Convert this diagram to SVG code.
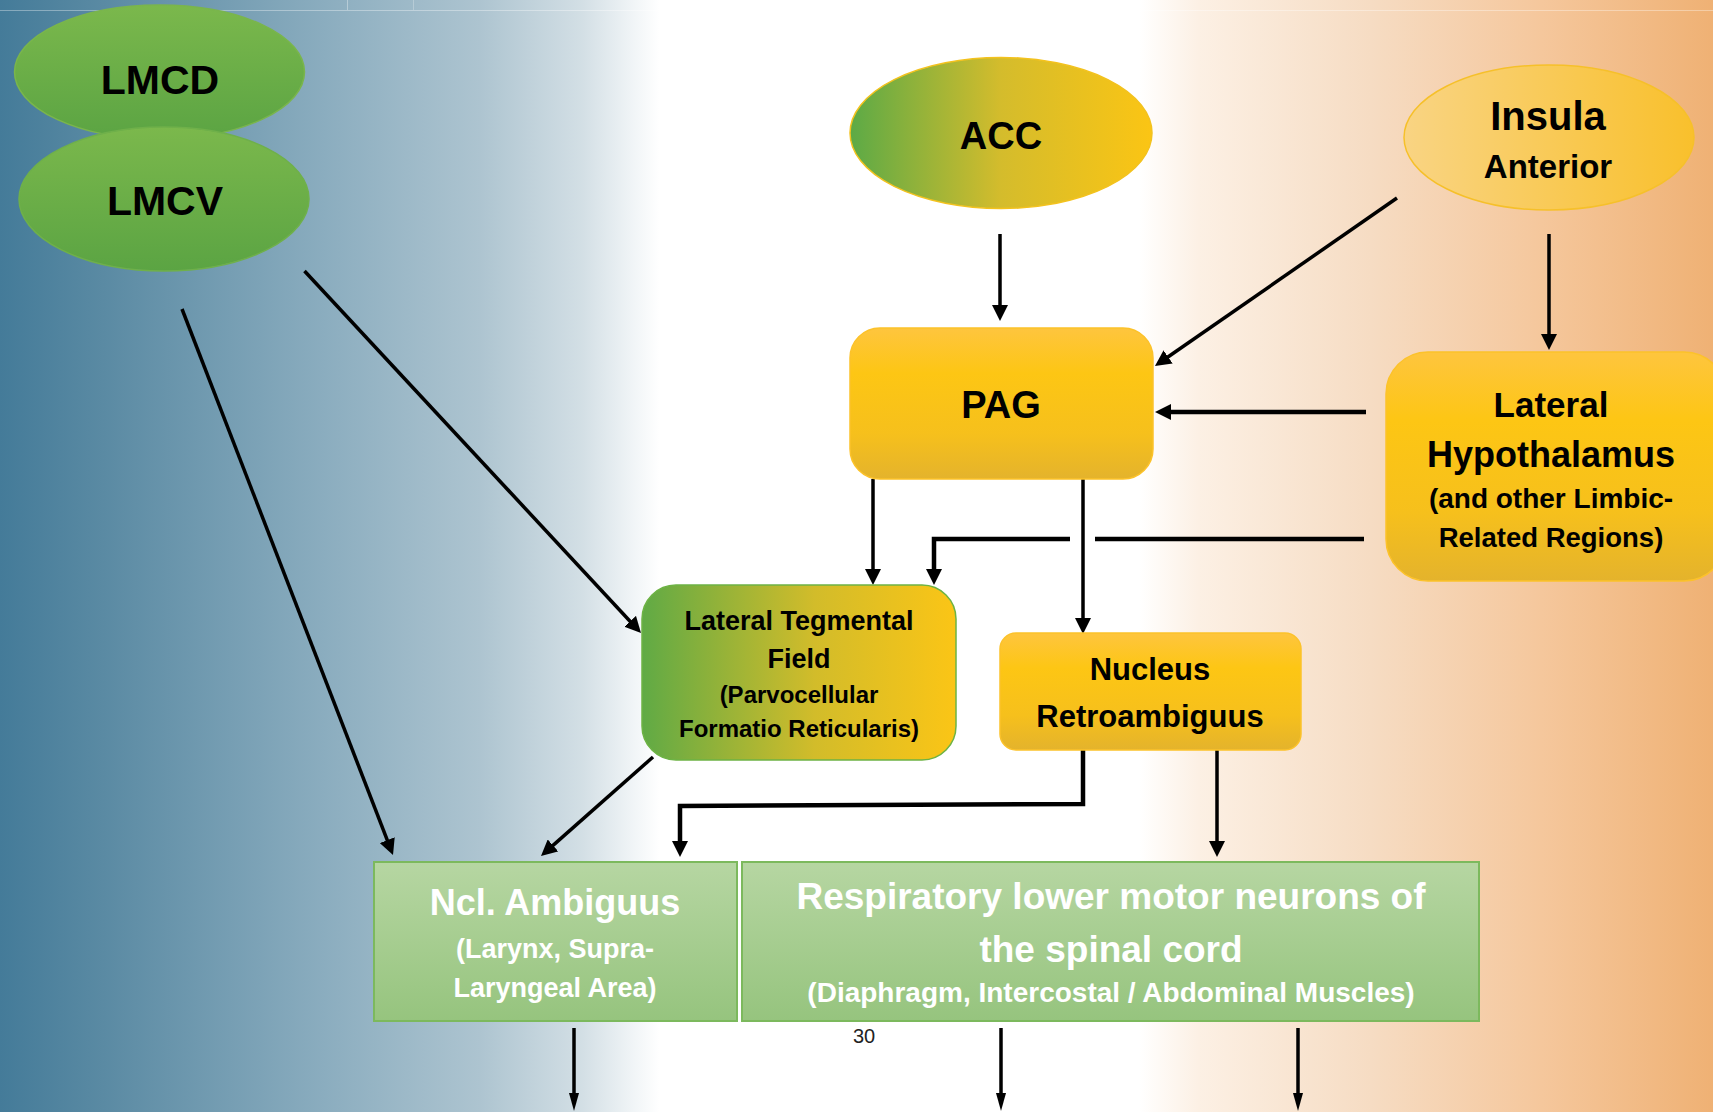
<svg xmlns="http://www.w3.org/2000/svg" width="1713" height="1112" viewBox="0 0 1713 1112">
<defs>
  <linearGradient id="bg" x1="0" y1="0" x2="1" y2="0">
    <stop offset="0" stop-color="#447b99"/>
    <stop offset="0.06" stop-color="#5a8aa3"/>
    <stop offset="0.19" stop-color="#8badbf"/>
    <stop offset="0.28" stop-color="#adc4d0"/>
    <stop offset="0.34" stop-color="#d3dfe5"/>
    <stop offset="0.37" stop-color="#f1f5f7"/>
    <stop offset="0.385" stop-color="#ffffff"/>
    <stop offset="0.665" stop-color="#ffffff"/>
    <stop offset="0.70" stop-color="#fcf0e4"/>
    <stop offset="0.80" stop-color="#f6dcc3"/>
    <stop offset="0.90" stop-color="#f5c79c"/>
    <stop offset="1" stop-color="#efb174"/>
  </linearGradient>
  <linearGradient id="gGreen" x1="0" y1="0" x2="0" y2="1">
    <stop offset="0" stop-color="#7bb84c"/>
    <stop offset="1" stop-color="#5ba443"/>
  </linearGradient>
  <linearGradient id="gAcc" x1="0" y1="0" x2="1" y2="0">
    <stop offset="0" stop-color="#5caa46"/>
    <stop offset="0.5" stop-color="#d4bc2c"/>
    <stop offset="1" stop-color="#fbc514"/>
  </linearGradient>
  <linearGradient id="gIns" x1="0" y1="0" x2="1" y2="0">
    <stop offset="0" stop-color="#f9d483"/>
    <stop offset="1" stop-color="#f9c02c"/>
  </linearGradient>
  <linearGradient id="gYel" x1="0" y1="0" x2="0" y2="1">
    <stop offset="0" stop-color="#fec53e"/>
    <stop offset="0.3" stop-color="#fdc614"/>
    <stop offset="0.7" stop-color="#f6c01c"/>
    <stop offset="1" stop-color="#e4b32c"/>
  </linearGradient>
  <linearGradient id="gLtf" x1="0" y1="0" x2="1" y2="0">
    <stop offset="0" stop-color="#60aa45"/>
    <stop offset="0.55" stop-color="#d2bc2a"/>
    <stop offset="1" stop-color="#fbc516"/>
  </linearGradient>
  <linearGradient id="gLow" x1="0" y1="0" x2="0" y2="1">
    <stop offset="0" stop-color="#b6d6a2"/>
    <stop offset="1" stop-color="#96c47e"/>
  </linearGradient>
  <marker id="ah" markerUnits="userSpaceOnUse" markerWidth="16" markerHeight="16" refX="6" refY="8" orient="auto">
    <path d="M0,0 L16,8 L0,16 z" fill="#000"/>
  </marker>
  <marker id="ahn" markerUnits="userSpaceOnUse" markerWidth="18" markerHeight="10" refX="8" refY="5" orient="auto">
    <path d="M0,0 L18,5 L0,10 z" fill="#000"/>
  </marker>
  <style>
    .t { font-family: "Liberation Sans", Arial, sans-serif; font-weight: bold; fill: #000; text-anchor: middle; }
    .w { fill: #ffffff; }
    .ln { stroke: #000; stroke-width: 3.5; fill: none; }
    .th { stroke-width: 4.5; }
    .arr { marker-end: url(#ah); }
    .arrn { marker-end: url(#ahn); }
  </style>
</defs>

<rect x="0" y="0" width="1713" height="1112" fill="url(#bg)"/>
<line x1="0" y1="10.5" x2="1713" y2="10.5" stroke="#ffffff" stroke-opacity="0.35" stroke-width="1"/>
<line x1="347.5" y1="0" x2="347.5" y2="10" stroke="#ffffff" stroke-opacity="0.35" stroke-width="1"/>
<line x1="413.5" y1="0" x2="413.5" y2="10" stroke="#ffffff" stroke-opacity="0.25" stroke-width="1"/>

<g id="connectors">
  <line class="ln arr" x1="1000" y1="234" x2="1000" y2="311"/>
  <line class="ln arr" x1="1397" y1="198" x2="1163.2" y2="360.3"/>
  <line class="ln arr" x1="1549" y1="234" x2="1549" y2="340"/>
  <line class="ln th arr" x1="1366" y1="412" x2="1165" y2="412"/>
  <line class="ln th" x1="1364" y1="539" x2="1095" y2="539"/>
  <path class="ln th arr" d="M1070,539 H934 V575"/>
  <line class="ln arr" x1="873" y1="479" x2="873" y2="575"/>
  <line class="ln arr" x1="1083" y1="479" x2="1083" y2="624"/>
  <line class="ln arr" x1="304.5" y1="271" x2="634.2" y2="625.7"/>
  <line class="ln arr" x1="182" y1="309" x2="389.4" y2="845.7"/>
  <line class="ln arr" x1="653" y1="757" x2="548.5" y2="849.4"/>
  <path class="ln th arr" d="M1083,750 V804 L680,806 V847"/>
  <line class="ln arr" x1="1217" y1="750" x2="1217" y2="847"/>
  <line class="ln arrn" x1="574" y1="1028" x2="574" y2="1101"/>
  <line class="ln arrn" x1="1001" y1="1028" x2="1001" y2="1101"/>
  <line class="ln arrn" x1="1298" y1="1028" x2="1298" y2="1101"/>
</g>

<g id="lmcd">
  <ellipse cx="159.5" cy="72" rx="145" ry="67" fill="url(#gGreen)" stroke="#7ab54c" stroke-width="1.5"/>
  <text class="t" x="160" y="94" font-size="41">LMCD</text>
</g>
<g id="lmcv">
  <ellipse cx="164" cy="199" rx="145" ry="72" fill="url(#gGreen)" stroke="#6fb04a" stroke-width="1.5"/>
  <text class="t" x="165" y="215" font-size="41">LMCV</text>
</g>
<g id="acc">
  <ellipse cx="1001" cy="133" rx="151" ry="75.5" fill="url(#gAcc)" stroke="#f3c21e" stroke-width="1.5"/>
  <text class="t" x="1001" y="149" font-size="38">ACC</text>
</g>
<g id="insula">
  <ellipse cx="1549" cy="137.5" rx="145" ry="72.5" fill="url(#gIns)" stroke="#f6c02a" stroke-width="1.5"/>
  <text class="t" x="1548" y="130" font-size="40">Insula</text>
  <text class="t" x="1548" y="178" font-size="33">Anterior</text>
</g>
<g id="pag">
  <rect x="850" y="328" width="303" height="151" rx="30" fill="url(#gYel)" stroke="#fcc22a" stroke-width="1.5"/>
  <text class="t" x="1001" y="418" font-size="38">PAG</text>
</g>
<g id="lh">
  <rect x="1386" y="352" width="340" height="229" rx="42" fill="url(#gYel)" stroke="#fcc22a" stroke-width="1.5"/>
  <text class="t" x="1551" y="417" font-size="35">Lateral</text>
  <text class="t" x="1551" y="467" font-size="36">Hypothalamus</text>
  <text class="t" x="1551" y="508" font-size="28">(and other Limbic-</text>
  <text class="t" x="1551" y="547" font-size="27.5">Related Regions)</text>
</g>
<g id="ltf">
  <rect x="642" y="585" width="314" height="175" rx="34" fill="url(#gLtf)" stroke="#6db344" stroke-width="1.5"/>
  <text class="t" x="799" y="630" font-size="27">Lateral Tegmental</text>
  <text class="t" x="799" y="668" font-size="27">Field</text>
  <text class="t" x="799" y="703" font-size="24">(Parvocellular</text>
  <text class="t" x="799" y="737" font-size="24">Formatio Reticularis)</text>
</g>
<g id="nr">
  <rect x="1000" y="633" width="301" height="117" rx="16" fill="url(#gYel)" stroke="#fcc22a" stroke-width="1.5"/>
  <text class="t" x="1150" y="680" font-size="31">Nucleus</text>
  <text class="t" x="1150" y="727" font-size="31">Retroambiguus</text>
</g>
<g id="ncl-ambiguus">
  <rect x="374" y="862" width="363" height="159" fill="url(#gLow)" stroke="#7cb95d" stroke-width="2"/>
  <text class="t w" x="555" y="915" font-size="36">Ncl. Ambiguus</text>
  <text class="t w" x="555" y="958" font-size="27">(Larynx, Supra-</text>
  <text class="t w" x="555" y="997" font-size="27">Laryngeal Area)</text>
</g>
<g id="respiratory">
  <rect x="742" y="862" width="737" height="159" fill="url(#gLow)" stroke="#7cb95d" stroke-width="2"/>
  <text class="t w" x="1111" y="909" font-size="37">Respiratory lower motor neurons of</text>
  <text class="t w" x="1111" y="962" font-size="37">the spinal cord</text>
  <text class="t w" x="1111" y="1002" font-size="28">(Diaphragm, Intercostal / Abdominal Muscles)</text>
</g>
<text x="864" y="1043" font-family="'Liberation Sans Narrow', 'Liberation Sans', Arial, sans-serif" font-size="20" fill="#222" text-anchor="middle">30</text>
</svg>
